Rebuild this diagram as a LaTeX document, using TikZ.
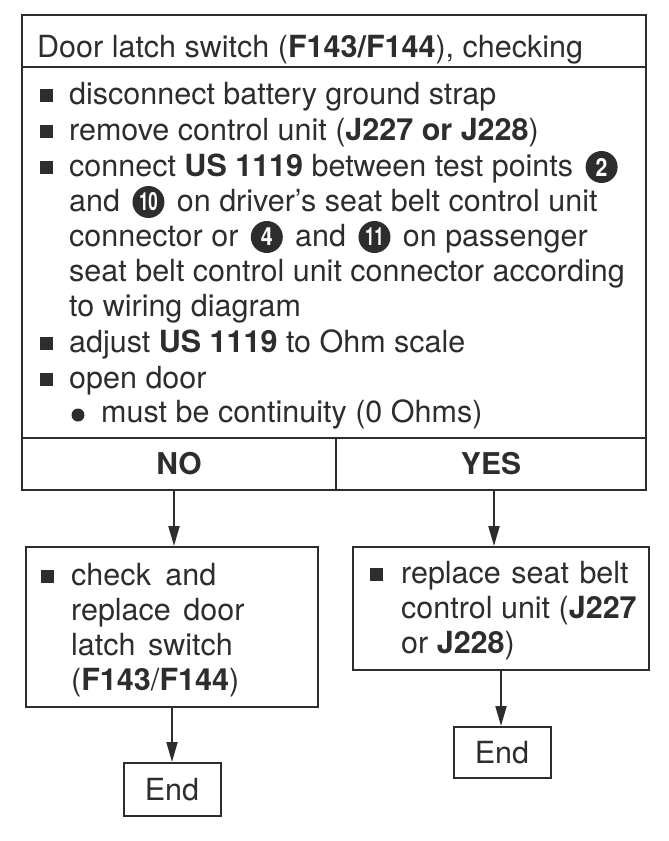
\documentclass[tikz,border=0pt]{standalone}
\usepackage{fontspec}
\setmainfont{TeX Gyre Heros}
\usetikzlibrary{arrows.meta}
\definecolor{ink}{RGB}{45,45,45}
\begin{document}
\begin{tikzpicture}[x=1pt,y=-1pt,
  box/.style={draw=ink,line width=2pt,rectangle,inner sep=0pt},
  txt/.style={anchor=base west,inner sep=0pt,text=ink,font=\fontsize{30.5}{35}\selectfont},
  ctxt/.style={text=ink,font=\fontsize{30.5}{35}\selectfont},
  sq/.style={fill=ink,rectangle,inner sep=0pt,minimum size=13pt},
  dot/.style={fill=ink,circle,inner sep=0pt,minimum size=13pt},
  cnode/.style={circle,fill=ink,text=white,inner sep=0pt,minimum size=32pt,anchor=west,font=\bfseries\fontsize{25}{25}\selectfont},
  arr/.style={draw=ink,line width=2pt,-{Triangle[length=20pt,width=11pt]}}]
\useasboundingbox (0,0) rectangle (669,841);
% main frame
\node[box,minimum width=624pt,minimum height=52pt] (title) at (334,41) {};
\node[box,minimum width=624pt,minimum height=371pt] (body) at (334,252.5) {};
\node[box,minimum width=314pt,minimum height=52pt,ctxt,font=\bfseries\fontsize{30}{35}\selectfont] (no) at (179,464) {NO};
\node[box,minimum width=310pt,minimum height=52pt,ctxt,font=\bfseries\fontsize{30}{35}\selectfont] (yes) at (491,464) {YES};
% title text
\node[txt] (ttl) at (37,57) {Door latch switch (\textbf{F143/F144}), checking};
% body lines
\node[sq] (b1) at (46.5,95.5) {};
\node[txt] (l1) at (69,104) {disconnect battery ground strap};
\node[sq] (b2) at (46.5,131.5) {};
\node[txt] (l2) at (69,140) {remove control unit (\textbf{J227 or J228})};
\node[sq] (b3) at (46.5,167.5) {};
\node[txt] (l3) at (69,176) {connect \textbf{US 1119} between test points};
\node[cnode] (c2) at ([xshift=12pt,yshift=9pt]l3.base east) {\scalebox{0.85}[1]{2}};
\node[txt] (l4a) at (69,211) {and};
\node[cnode] (c10) at ([xshift=12pt,yshift=9pt]l4a.base east) {\scalebox{0.68}[1]{10}};
\node[txt] (l4b) at ([xshift=12pt]c10.east |- l4a.base) {on driver's seat belt control unit};
\node[txt] (l5a) at (69,246) {connector or};
\node[cnode] (c4) at ([xshift=12pt,yshift=9pt]l5a.base east) {\scalebox{0.85}[1]{4}};
\node[txt] (l5b) at ([xshift=12pt]c4.east |- l5a.base) {and};
\node[cnode] (c11) at ([xshift=12pt,yshift=9pt]l5b.base east) {\scalebox{0.68}[1]{11}};
\node[txt] (l5c) at ([xshift=12pt]c11.east |- l5a.base) {on passenger};
\node[txt] (l6) at (69,281) {seat belt control unit connector according};
\node[txt] (l7) at (69,316) {to wiring diagram};
\node[sq] (b8) at (46.5,343.5) {};
\node[txt] (l8) at (69,352) {adjust \textbf{US 1119} to Ohm scale};
\node[sq] (b9) at (46.5,379.5) {};
\node[txt] (l9) at (69,388) {open door};
\node[dot] (d10) at (78,415) {};
\node[txt] (l10) at (101,422) {must be continuity (0 Ohms)};
% result boxes
\node[box,minimum width=292pt,minimum height=160pt] (lbox) at (172,627) {};
\node[sq] (lb) at (47.5,576.5) {};
\node[txt] (ll1) at (71,585) {check\hspace{6pt} and};
\node[txt] (ll2) at (71,620) {replace\hspace{4pt} door};
\node[txt] (ll3) at (71,655) {latch\hspace{4pt} switch};
\node[txt] (ll4) at (71,690) {(\textbf{F143}/\textbf{F144})};
\node[box,minimum width=296pt,minimum height=123pt] (rbox) at (501,608.5) {};
\node[sq] (rb) at (376.5,574.5) {};
\node[txt] (rl1) at (401,583) {replace\hspace{2pt} seat\hspace{2pt} belt};
\node[txt] (rl2) at (401,618) {control unit (\textbf{J227}};
\node[txt] (rl3) at (401,653) {or \textbf{J228})};
\node[box,minimum width=97pt,minimum height=53pt,ctxt] (lend) at (172,789.5) {End};
\node[box,minimum width=97pt,minimum height=51pt,ctxt] (rend) at (502,752.5) {End};
% connectors
\draw[arr] ([xshift=-5pt]no.south) -- ([xshift=-5pt]no.south |- lbox.north);
\draw[arr] ([xshift=3pt]yes.south) -- ([xshift=3pt]yes.south |- rbox.north);
\draw[arr] (lbox.south) -- (lbox.south |- lend.north);
\draw[arr] (rbox.south) -- (rbox.south |- rend.north);
\end{tikzpicture}
\end{document}
